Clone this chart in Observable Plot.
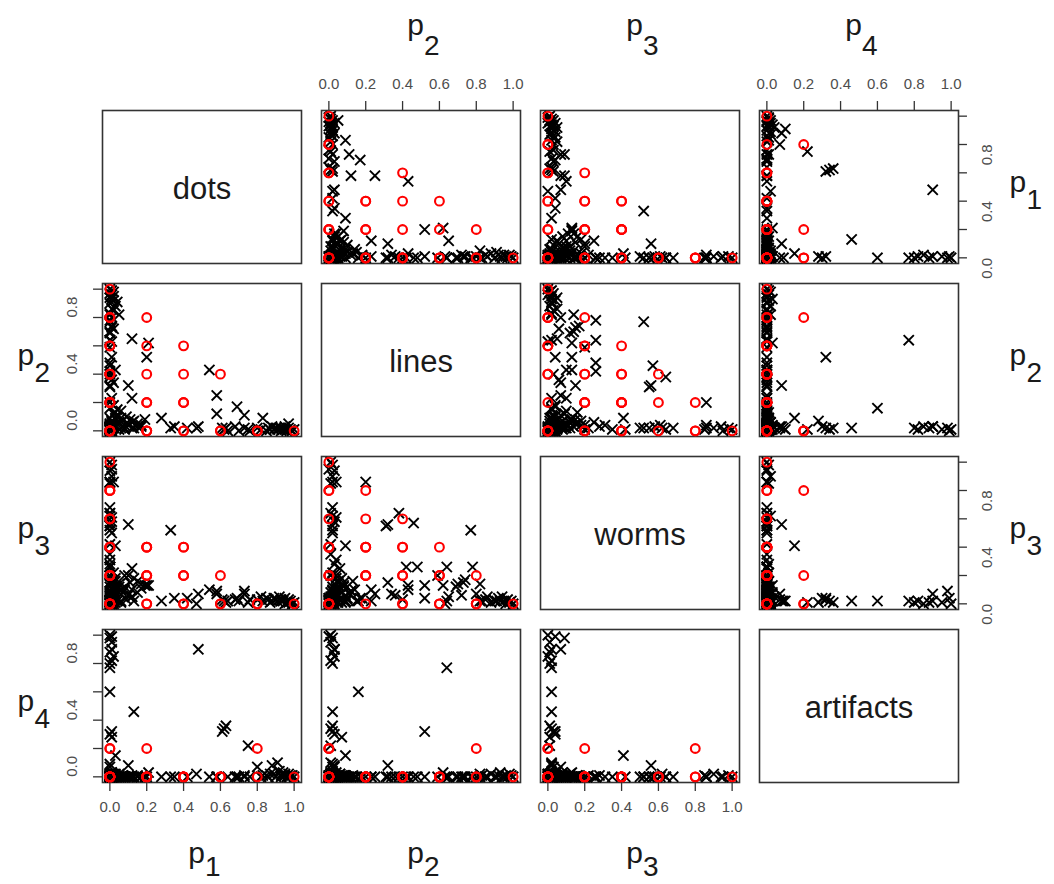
<!DOCTYPE html>
<html><head><meta charset="utf-8">
<script src="https://cdn.jsdelivr.net/npm/d3@7"></script>
<script src="https://cdn.jsdelivr.net/npm/@observablehq/plot@0.6"></script>
<style>body{margin:0;background:#fff}#chart svg{display:block}</style>
</head><body><div id="chart"></div>
<script>
// Diagonal labels and axis content
const classLabels = ["dots", "lines", "worms", "artifacts"];
const varNums = ["1", "2", "3", "4"];
const tickValues = [0, 0.2, 0.4, 0.6, 0.8, 1.0];
const yLabelValues = [0, 0.4, 0.8];
const xLabelValues = [0, 0.2, 0.4, 0.6, 0.8, 1.0];

// Predicted proportions (black x): rows of [p1, p2, p3, p4]
const predDots = [
  [1.00,0.01,0.01,0.00],[0.99,0.00,0.00,0.01],[0.98,0.01,0.02,0.01],[0.97,0.02,0.03,0.02],
  [0.96,0.00,0.01,0.00],[0.95,0.03,0.04,0.01],[0.94,0.01,0.02,0.03],[0.93,0.02,0.02,0.01],
  [0.92,0.02,0.05,0.04],[0.91,0.01,0.02,0.10],[0.90,0.02,0.03,0.00],[0.89,0.01,0.04,0.02],
  [0.88,0.03,0.02,0.08],[0.87,0.01,0.01,0.02],[0.86,0.02,0.03,0.00],[0.85,0.00,0.04,0.01],
  [0.83,0.09,0.02,0.01],[0.82,0.01,0.05,0.00],[0.80,0.02,0.03,0.07],[0.97,0.05,0.01,0.00],
  [0.95,0.01,0.00,0.02],[0.93,0.00,0.03,0.00],[0.75,0.01,0.01,0.22],[0.73,0.11,0.07,0.00],
  [0.69,0.17,0.04,0.00],[0.73,0.02,0.09,0.01],[0.70,0.00,0.02,0.00],[0.68,0.03,0.03,0.00],
  [0.64,0.00,0.02,0.00],[0.63,0.02,0.01,0.36],[0.62,0.01,0.02,0.34],[0.61,0.02,0.03,0.32],
  [0.76,0.00,0.03,0.00]
];
const predMixed = [
  [0.58,0.25,0.07,0.00],[0.58,0.12,0.09,0.00],[0.54,0.43,0.10,0.00],[0.47,0.02,0.00,0.02],
  [0.48,0.03,0.07,0.90],[0.42,0.02,0.04,0.00],[0.35,0.03,0.04,0.00],[0.33,0.02,0.52,0.00],
  [0.28,0.09,0.02,0.00],[0.19,0.08,0.13,0.00],[0.12,0.23,0.10,0.00],[0.12,0.06,0.25,0.00],
  [0.20,0.52,0.13,0.00],[0.21,0.62,0.13,0.03],[0.12,0.65,0.05,0.00],[0.05,0.82,0.14,0.00],
  [0.04,0.91,0.02,0.00],[0.03,0.43,0.13,0.00],[0.03,0.09,0.41,0.15],[0.10,0.32,0.56,0.08],
  [0.13,0.02,0.02,0.46],[0.00,0.64,0.02,0.77],[0.00,0.16,0.02,0.60],[0.01,0.52,0.04,0.32],
  [0.17,0.03,0.14,0.00],[0.10,0.04,0.20,0.00],[0.15,0.05,0.16,0.01],[0.08,0.02,0.12,0.00],
  [0.13,0.07,0.18,0.00]
];
const predLines = [
  [0.00,1.00,0.00,0.00],[0.01,0.99,0.02,0.01],[0.02,0.98,0.01,0.02],[0.00,0.97,0.03,0.00],
  [0.01,0.96,0.00,0.01],[0.02,0.95,0.02,0.00],[0.00,0.94,0.05,0.00],[0.01,0.93,0.02,0.03],
  [0.02,0.92,0.04,0.01],[0.00,0.90,0.02,0.00],[0.03,0.88,0.01,0.02],[0.01,0.86,0.05,0.00],
  [0.02,0.85,0.03,0.00],[0.00,0.83,0.02,0.01],[0.01,0.80,0.07,0.00],[0.00,0.78,0.26,0.00],
  [0.00,0.77,0.52,0.00],[0.01,0.73,0.15,0.00],[0.00,0.70,0.14,0.00],[0.02,0.72,0.06,0.00],
  [0.00,0.69,0.12,0.00],[0.00,0.64,0.26,0.00],[0.01,0.63,0.00,0.00],[0.00,0.59,0.20,0.00],
  [0.00,0.38,0.64,0.00],[0.00,0.46,0.57,0.00],[0.00,0.42,0.26,0.00],[0.00,0.48,0.26,0.00],
  [0.00,0.32,0.15,0.00],[0.02,0.34,0.07,0.00],[0.01,0.36,0.06,0.00],[0.00,0.31,0.55,0.00],
  [0.00,0.20,0.86,0.00],[0.00,0.82,0.02,0.02],[0.01,0.74,0.17,0.00],[0.02,0.18,0.04,0.00],
  [0.01,0.23,0.02,0.00],[0.00,0.40,0.03,0.00]
];
const predWorms = [
  [0.00,0.01,1.00,0.00],[0.01,0.02,0.98,0.01],[0.00,0.03,0.94,0.00],[0.01,0.02,0.90,0.02],
  [0.00,0.02,0.86,0.00],[0.02,0.04,0.86,0.00],[0.00,0.01,0.64,0.00],[0.01,0.04,0.61,0.00],
  [0.00,0.02,0.55,0.00],[0.01,0.02,0.50,0.00],[0.00,0.01,0.42,0.00],[0.00,0.04,0.31,0.00],
  [0.00,0.03,0.28,0.01],[0.00,0.02,0.62,0.02],[0.01,0.03,0.58,0.00],[0.00,0.01,0.35,0.00],
  [0.02,0.02,0.22,0.01],[0.00,0.02,0.68,0.00],[0.00,0.01,0.85,0.01],[0.01,0.00,0.95,0.00]
];
const predArtifacts = [
  [0.00,0.01,0.00,1.00],[0.01,0.00,0.04,0.99],[0.00,0.02,0.09,0.98],[0.01,0.03,0.02,0.90],
  [0.00,0.02,0.01,0.88],[0.02,0.03,0.00,0.85],[0.01,0.01,0.02,0.82],[0.00,0.02,0.01,0.80],
  [0.00,0.03,0.04,0.30],[0.01,0.07,0.01,0.28],[0.00,0.02,0.02,0.09],[0.00,0.03,0.07,0.07],
  [0.01,0.01,0.01,0.95]
];
const predLow = [
  [0.02,0.03,0.05,0.01],[0.05,0.01,0.08,0.00],[0.01,0.06,0.03,0.02],[0.08,0.04,0.10,0.00],
  [0.03,0.08,0.12,0.01],[0.06,0.02,0.02,0.00],[0.10,0.05,0.06,0.00],[0.04,0.10,0.04,0.00],
  [0.00,0.05,0.15,0.00],[0.07,0.07,0.08,0.01],[0.02,0.12,0.09,0.00],[0.12,0.02,0.05,0.01],
  [0.01,0.01,0.02,0.00],[0.03,0.04,0.18,0.00],[0.09,0.10,0.03,0.00],[0.05,0.06,0.12,0.02],
  [0.15,0.03,0.08,0.00],[0.00,0.09,0.06,0.01],[0.06,0.14,0.10,0.00],[0.02,0.02,0.10,0.00],
  [0.11,0.08,0.15,0.00],[0.04,0.15,0.02,0.00],[0.08,0.01,0.20,0.00],[0.01,0.04,0.08,0.03],
  [0.17,0.04,0.11,0.00],[0.03,0.13,0.16,0.01],[0.00,0.00,0.01,0.00],[0.06,0.09,0.01,0.00]
];

// Annotated proportions (red o): rows of [p1, p2, p3, p4]
const truthNoDots = [
  [0,0,0,0],[0,0,0.2,0],[0,0,0.4,0],[0,0,0.6,0],[0,0,0.8,0],[0,0,1,0],
  [0,0.2,0,0],[0,0.2,0.2,0],[0,0.2,0.4,0],[0,0.2,0.6,0],[0,0.2,0.8,0],
  [0,0.4,0,0],[0,0.4,0.2,0],[0,0.4,0.4,0],[0,0.4,0.6,0],
  [0,0.6,0,0],[0,0.6,0.2,0],[0,0.6,0.4,0],
  [0,0.8,0,0],[0,0.8,0.2,0],[0,1,0,0],
  [0,0.8,0,0.2],[0,0,0.8,0.2]
];
const truthDots = [
  [0.2,0.8,0,0],[0.2,0.6,0.2,0],[0.2,0.4,0.4,0],[0.2,0.2,0.4,0],[0.2,0,0.4,0],
  [0.2,0,0,0],[0.2,0.2,0.2,0],[0.2,0,0.2,0.2],
  [0.4,0.6,0,0],[0.4,0.4,0.2,0],[0.4,0.2,0.4,0],[0.4,0,0.4,0],[0.4,0,0,0],[0.4,0.2,0.2,0],
  [0.6,0.4,0,0],[0.6,0,0.2,0],[0.6,0,0,0],
  [0.8,0,0,0],[0.8,0,0,0.2],[1,0,0,0]
];

// ---- build panel tables ----
const pred = [...predDots, ...predMixed, ...predLines, ...predWorms, ...predArtifacts, ...predLow];
const truth = [...truthNoDots, ...truthDots];
const panels = [];
for (let r = 1; r <= 4; r++) for (let c = 1; c <= 4; c++) if (r !== c) panels.push({row: r, col: c});
const toLong = (rows) => rows.flatMap(p => panels.map(({row, col}) => ({row, col, x: p[col - 1], y: p[row - 1]})));
const predLong = toLong(pred);
const truthLong = toLong(truth);

const diag = classLabels.map((label, k) => ({row: k + 1, col: k + 1, label}));

const lo = -0.04, hi = 1.04;
const W = 1054, H = 884;
const mL = 101, mR = 94, mT = 109, mB = 101;
const gap = 20;
const bandW = ((W - mL - mR) - 3 * gap) / 4;
const bandH = ((H - mT - mB) - 3 * gap) / 4;
const tickPx = 9;
const tX = tickPx * (hi - lo) / bandW;
const tY = tickPx * (hi - lo) / bandH;

const topTicks = [2, 4].flatMap(col => tickValues.map(v => ({row: 1, col, v})));
const bottomTicks = [1, 3].flatMap(col => tickValues.map(v => ({row: 4, col, v})));
const leftTicks = [2, 4].flatMap(row => tickValues.map(v => ({row, col: 1, v})));
const rightTicks = [1, 3].flatMap(row => tickValues.map(v => ({row, col: 4, v})));
const topLabels = [2, 4].flatMap(col => xLabelValues.map(v => ({row: 1, col, v})));
const bottomLabels = [1, 3].flatMap(col => xLabelValues.map(v => ({row: 4, col, v})));
const leftLabels = [2, 4].flatMap(row => yLabelValues.map(v => ({row, col: 1, v})));
const rightLabels = [1, 3].flatMap(row => yLabelValues.map(v => ({row, col: 4, v})));

const topVars = [2, 3, 4].map(col => ({row: 1, col, num: varNums[col - 1]}));
const bottomVars = [1, 2, 3].map(col => ({row: 4, col, num: varNums[col - 1]}));
const leftVars = [2, 3, 4].map(row => ({row, col: 1, num: varNums[row - 1]}));
const rightVars = [1, 2, 3].map(row => ({row, col: 4, num: varNums[row - 1]}));

const fmt = d => d.v.toFixed(1);
const tickStroke = "#333";
const labFill = "#4d4d4d";
const txtFill = "#1a1a1a";
const facet = {fx: "col", fy: "row"};

const chart = Plot.plot({
  width: W, height: H,
  marginLeft: mL, marginRight: mR, marginTop: mT, marginBottom: mB,
  style: {fontFamily: "'Liberation Sans', Arial, sans-serif", background: "#fff"},
  fx: {domain: [1, 2, 3, 4], axis: null, paddingInner: gap / (bandW + gap), paddingOuter: 0},
  fy: {domain: [1, 2, 3, 4], axis: null, paddingInner: gap / (bandH + gap), paddingOuter: 0},
  x: {domain: [lo, hi], axis: null},
  y: {domain: [lo, hi], axis: null},
  marks: [
    Plot.frame({stroke: "#333", strokeWidth: 1.6}),
    Plot.dot(predLong, {...facet, x: "x", y: "y", symbol: "times", r: 4.7, stroke: "#000", strokeWidth: 1.9, fill: "none"}),
    Plot.dot(truthLong, {...facet, x: "x", y: "y", symbol: "circle", r: 4.4, stroke: "#ff0000", strokeWidth: 2.1, fill: "none"}),
    Plot.text(diag, {...facet, text: "label", frameAnchor: "middle", dy: 2, fontSize: 31, fill: txtFill}),
    // axis ticks
    Plot.ruleX(topTicks, {...facet, x: "v", y1: hi, y2: hi + tY, stroke: tickStroke, strokeWidth: 1.3}),
    Plot.ruleX(bottomTicks, {...facet, x: "v", y1: lo, y2: lo - tY, stroke: tickStroke, strokeWidth: 1.3}),
    Plot.ruleY(leftTicks, {...facet, y: "v", x1: lo, x2: lo - tX, stroke: tickStroke, strokeWidth: 1.3}),
    Plot.ruleY(rightTicks, {...facet, y: "v", x1: hi, x2: hi + tX, stroke: tickStroke, strokeWidth: 1.3}),
    // tick labels
    Plot.text(topLabels, {...facet, x: "v", text: fmt, frameAnchor: "top", dy: -32, fontSize: 15, fill: labFill}),
    Plot.text(bottomLabels, {...facet, x: "v", text: fmt, frameAnchor: "bottom", dy: 29, fontSize: 15, fill: labFill}),
    Plot.text(leftLabels, {...facet, y: "v", text: fmt, frameAnchor: "left", dx: -30, rotate: -90, fontSize: 15, fill: labFill}),
    Plot.text(rightLabels, {...facet, y: "v", text: fmt, frameAnchor: "right", dx: 29, rotate: -90, fontSize: 15, fill: labFill}),
    // variable names p with subscript
    Plot.text(topVars, {...facet, x: 0.5, text: () => "p", frameAnchor: "top", textAnchor: "end", lineAnchor: "bottom", dx: 3, dy: -76, fontSize: 30, fill: txtFill}),
    Plot.text(topVars, {...facet, x: 0.5, text: "num", frameAnchor: "top", textAnchor: "start", lineAnchor: "bottom", dx: 3, dy: -56, fontSize: 28, fill: txtFill}),
    Plot.text(bottomVars, {...facet, x: 0.5, text: () => "p", frameAnchor: "bottom", textAnchor: "end", lineAnchor: "bottom", dx: 3, dy: 80, fontSize: 30, fill: txtFill}),
    Plot.text(bottomVars, {...facet, x: 0.5, text: "num", frameAnchor: "bottom", textAnchor: "start", lineAnchor: "bottom", dx: 3, dy: 93, fontSize: 28, fill: txtFill}),
    Plot.text(leftVars, {...facet, y: 0.5, text: () => "p", frameAnchor: "left", textAnchor: "start", lineAnchor: "bottom", dx: -85, dy: 5, fontSize: 30, fill: txtFill}),
    Plot.text(leftVars, {...facet, y: 0.5, text: "num", frameAnchor: "left", textAnchor: "start", lineAnchor: "bottom", dx: -68, dy: 22, fontSize: 28, fill: txtFill}),
    Plot.text(rightVars, {...facet, y: 0.5, text: () => "p", frameAnchor: "right", textAnchor: "start", lineAnchor: "bottom", dx: 51, dy: 5, fontSize: 30, fill: txtFill}),
    Plot.text(rightVars, {...facet, y: 0.5, text: "num", frameAnchor: "right", textAnchor: "start", lineAnchor: "bottom", dx: 68, dy: 22, fontSize: 28, fill: txtFill})
  ]
});
document.getElementById("chart").appendChild(chart);
</script>
</body></html>
